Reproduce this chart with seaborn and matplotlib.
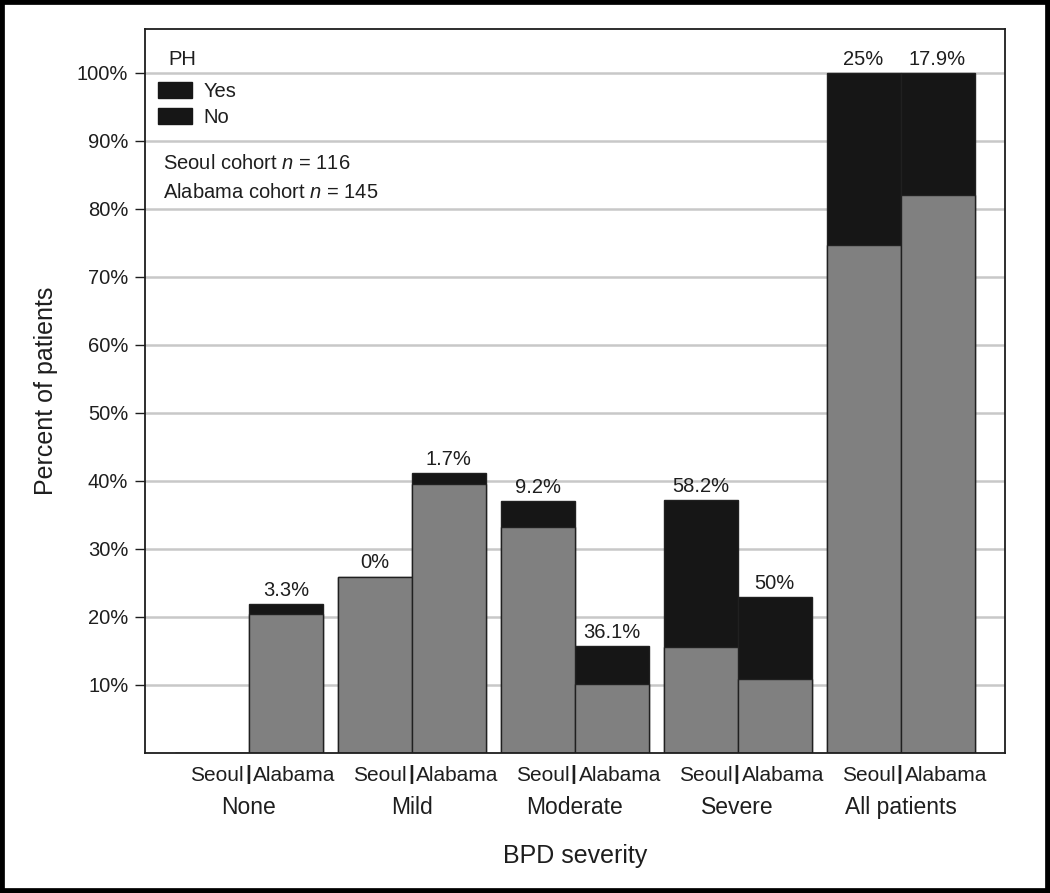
import matplotlib
matplotlib.use("Agg")
import matplotlib.pyplot as plt
from matplotlib.patches import Patch, Rectangle
import seaborn as sns
import pandas as pd

# ---- data ----
groups = ["None", "Mild", "Moderate", "Severe", "All patients"]
cohorts = ["Seoul", "Alabama"]
# stacked heights (% of patients in cohort)
seoul_total = [0.0, 25.9, 37.0, 37.2, 100.0]
seoul_no = [0.0, 25.9, 33.2, 15.6, 74.7]
alabama_total = [21.8, 41.1, 15.7, 22.9, 100.0]
alabama_no = [20.4, 39.5, 10.1, 10.8, 82.0]
# PH prevalence labels
seoul_ph = [None, 0, 9.2, 58.2, 25]
alabama_ph = [3.3, 1.7, 36.1, 50, 17.9]
yticks = [10, 20, 30, 40, 50, 60, 70, 80, 90, 100]

rows = []
for i, g in enumerate(groups):
    rows.append(dict(group=g, cohort="Seoul", total=seoul_total[i], no=seoul_no[i]))
    rows.append(dict(group=g, cohort="Alabama", total=alabama_total[i], no=alabama_no[i]))
df = pd.DataFrame(rows)

sns.set_style("white")
plt.rcParams["font.family"] = ["Liberation Sans", "DejaVu Sans"]
plt.rcParams["mathtext.fontset"] = "custom"
plt.rcParams["mathtext.rm"] = "Liberation Sans"
plt.rcParams["mathtext.it"] = "Liberation Sans:italic"

BLACK = "#161616"
GRAY = "#808080"
EDGE = "#202020"
TXT = "#1e1e1e"

fig = plt.figure(figsize=(10.5, 8.93), dpi=100)
ax = fig.add_axes([145 / 1050, 1 - 752.7 / 893, 860 / 1050, 723.4 / 893])

sns.barplot(data=df, x="group", y="total", hue="cohort", order=groups,
            hue_order=cohorts, palette=[BLACK, BLACK], width=0.908, gap=0,
            edgecolor=EDGE, linewidth=1, legend=False, errorbar=None, ax=ax)
sns.barplot(data=df, x="group", y="no", hue="cohort", order=groups,
            hue_order=cohorts, palette=[GRAY, GRAY], width=0.908, gap=0,
            edgecolor=EDGE, linewidth=1, legend=False, errorbar=None, ax=ax)

def fmt(v):
    return "" if v is None else f"{v:g}%"

ax.bar_label(ax.containers[0], labels=[fmt(v) for v in seoul_ph], padding=3,
             fontsize=14.5, color=TXT)
ax.bar_label(ax.containers[1], labels=[fmt(v) for v in alabama_ph], padding=3,
             fontsize=14.5, color=TXT)

ax.set_ylim(0, 106.4)
ax.set_xlim(-0.638, 4.641)
ax.set_yticks(yticks)
ax.set_yticklabels([f"{v}%" for v in yticks])
ax.yaxis.grid(True, color="#c8c8c8", lw=1.8)
ax.set_axisbelow(True)
ax.tick_params(axis="y", left=True, length=7, width=1, color=TXT,
               labelsize=14.5, pad=5, labelcolor=TXT)
ax.set_xticks(range(len(groups)))
ax.set_xticklabels(groups)
ax.tick_params(axis="x", length=0, labelsize=16.5, pad=31, labelcolor=TXT)
for s in ax.spines.values():
    s.set_visible(True)
    s.set_color(TXT)
    s.set_linewidth(1.3)

# sub-labels Seoul | Alabama under each group
for i in range(len(groups)):
    kw = dict(xycoords=ax.get_xaxis_transform(), textcoords="offset pixels",
              va="center", fontsize=15, color=TXT)
    ax.annotate(cohorts[0], xy=(i, 0), xytext=(-5, -23), ha="right", **kw)
    ax.annotate("|", xy=(i, 0), xytext=(-1, -22), ha="center",
                fontweight="bold", **kw)
    ax.annotate(cohorts[1], xy=(i, 0), xytext=(4, -23), ha="left", **kw)

ax.set_xlabel("BPD severity", fontsize=18, color=TXT, labelpad=18)
ax.set_ylabel("Percent of patients", fontsize=18, color=TXT, labelpad=14)

# legend
ax.text(0.0267, 0.9576, "PH", transform=ax.transAxes, fontsize=14.5,
        va="center", ha="left", color=TXT)
handles = [Patch(facecolor=BLACK, edgecolor=BLACK), Patch(facecolor=BLACK, edgecolor=BLACK)]
leg = ax.legend(handles, ["Yes", "No"], loc="upper left",
                bbox_to_anchor=(0.0155, 0.927), frameon=False, fontsize=14.5,
                handlelength=1.65, handleheight=0.8,
                handletextpad=0.6, labelspacing=0.35, borderaxespad=0,
                borderpad=0)
for t in leg.get_texts():
    t.set_color(TXT)
ax.text(0.021, 0.814, "Seoul cohort $n$ = 116", transform=ax.transAxes,
        fontsize=14.5, va="center", color=TXT)
ax.text(0.021, 0.775, "Alabama cohort $n$ = 145", transform=ax.transAxes,
        fontsize=14.5, va="center", color=TXT)

fig.patches.append(Rectangle((0, 0), 1, 1, transform=fig.transFigure, fill=False,
                             edgecolor="black", lw=7))

fig.savefig("out.png", dpi=100)
